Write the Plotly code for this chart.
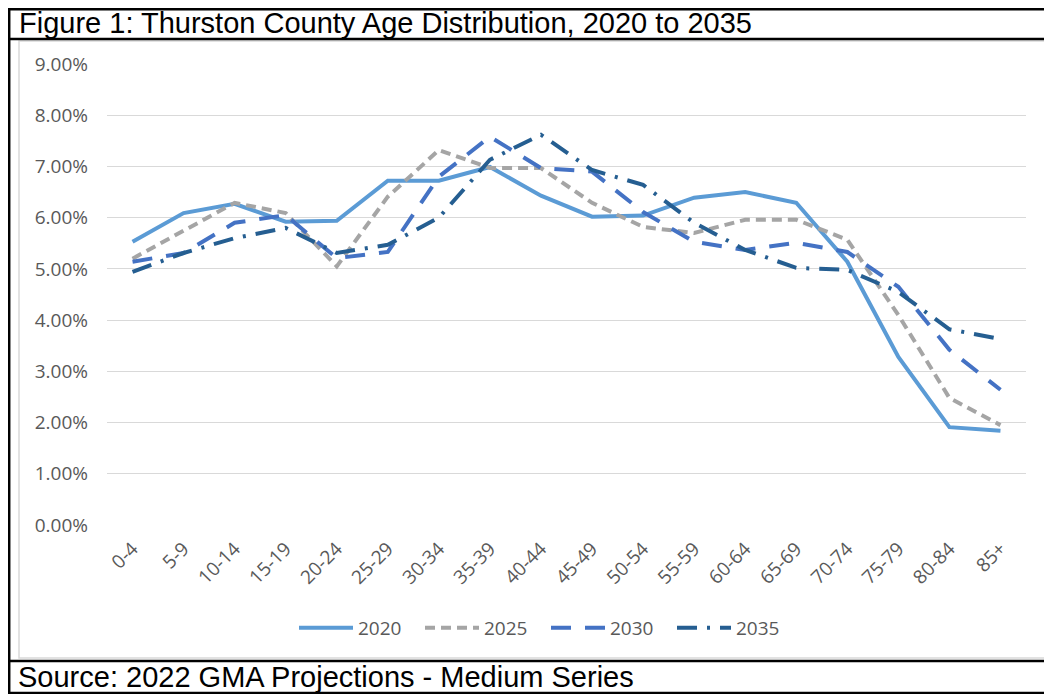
import plotly.graph_objects as go

categories = ["0-4", "5-9", "10-14", "15-19", "20-24", "25-29", "30-34", "35-39", "40-44",
              "45-49", "50-54", "55-59", "60-64", "65-69", "70-74", "75-79", "80-84", "85+"]

y2020 = [5.53, 6.09, 6.27, 5.92, 5.94, 6.72, 6.72, 6.99, 6.43, 6.02, 6.04, 6.39, 6.50, 6.29, 5.14, 3.28, 1.91, 1.84]
y2025 = [5.20, 5.75, 6.29, 6.09, 5.05, 6.41, 7.32, 6.97, 6.97, 6.29, 5.82, 5.70, 5.96, 5.96, 5.57, 4.10, 2.48, 1.95]
y2030 = [5.14, 5.31, 5.90, 6.05, 5.21, 5.33, 6.80, 7.58, 6.97, 6.90, 6.11, 5.53, 5.37, 5.51, 5.33, 4.65, 3.42, 2.64]
y2035 = [4.94, 5.31, 5.60, 5.80, 5.31, 5.47, 6.00, 7.13, 7.62, 6.93, 6.64, 5.90, 5.37, 5.02, 4.98, 4.55, 3.82, 3.63]

series = [
    ("2020", y2020, "#5B9BD5", "solid"),
    ("2025", y2025, "#A5A5A5", "10px,6px"),
    ("2030", y2030, "#4472C4", "20px,14px"),
    ("2035", y2035, "#255E91", "20px,10px,3px,10px"),
]

# page body has an 8px margin: figure drawn at (8, 8)
OFF = 8
W, H = 1052 - OFF, 694 - OFF
# plot area in reference pixels: x 107..1026, y 64..525
L, R, T, B = 107 - OFF, 1052 - 1026, 64 - OFF, 694 - 525
PW, PH = W - L - R, H - T - B


def px(x):
    """reference pixel x -> paper x"""
    return (x - OFF - L) / PW


def py(y):
    """reference pixel y -> paper y"""
    return (H - B - (y - OFF)) / PH


fig = go.Figure()
for name, vals, color, dash in series:
    fig.add_trace(go.Scatter(
        x=categories, y=vals, name=name, mode="lines",
        line=dict(color=color, width=4, dash=dash),
    ))

font_tick = dict(family="Open Sans, Noto Sans, sans-serif", size=19, color="#595959")

fig.update_layout(
    width=W, height=H,
    margin=dict(l=L, r=R, t=T, b=B),
    paper_bgcolor="white", plot_bgcolor="white",
    showlegend=True,
    legend=dict(orientation="h", x=px(546), xanchor="center", y=py(628), yanchor="middle",
                font=dict(family="Open Sans, Noto Sans, sans-serif", size=19, color="#595959"),
                itemwidth=54, entrywidth=57, entrywidthmode="pixels", bgcolor="rgba(0,0,0,0)"),
    xaxis=dict(type="category", tickangle=-45, tickfont=font_tick, showgrid=False,
               showline=False, zeroline=False, ticks="", range=[-0.5, 17.5],
               ticklabelstandoff=8),
    yaxis=dict(range=[0, 9], tickvals=list(range(10)),
               ticktext=[f"{v:.2f}%" for v in range(10)], tickfont=font_tick,
               showgrid=True, gridcolor="#D9D9D9", gridwidth=1, zeroline=False,
               showline=False, ticks="", ticklabelstandoff=18),
)

shapes = []
# chart area light border
shapes.append(dict(type="rect", xref="paper", yref="paper", x0=px(19), x1=px(1047), y0=py(41), y1=py(658),
                   line=dict(color="#D9D9D9", width=1.5), fillcolor="rgba(0,0,0,0)", layer="below"))
# outer black frame (left/top as close to the reference as the page allows)
shapes.append(dict(type="rect", xref="paper", yref="paper", x0=px(OFF + 1.2), x1=px(1051), y0=py(OFF + 1.2), y1=py(693),
                   line=dict(color="black", width=2.5), fillcolor="rgba(0,0,0,0)"))
# separator lines
for yy in (39, 661):
    shapes.append(dict(type="line", xref="paper", yref="paper", x0=px(OFF + 1.2), x1=px(1051), y0=py(yy), y1=py(yy),
                       line=dict(color="black", width=2.5)))
fig.update_layout(shapes=shapes)

fig.add_annotation(text="Figure 1: Thurston County Age Distribution, 2020 to 2035",
                   xref="paper", yref="paper", x=px(17), y=py(23), xanchor="left", yanchor="middle",
                   showarrow=False, font=dict(family="Liberation Sans, Arial, sans-serif", size=29, color="black"))
fig.add_annotation(text="Source: 2022 GMA Projections - Medium Series",
                   xref="paper", yref="paper", x=px(17), y=py(677), xanchor="left", yanchor="middle",
                   borderpad=0,
                   showarrow=False, font=dict(family="Liberation Sans, Arial, sans-serif", size=29, color="black"))

fig.write_html("out.html")
